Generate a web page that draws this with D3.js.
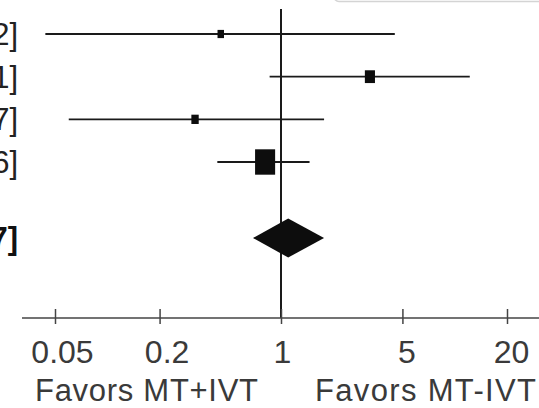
<!DOCTYPE html>
<html>
<head>
<meta charset="utf-8">
<script src="https://cdn.jsdelivr.net/npm/d3@7"></script>
<style>
  html, body { margin: 0; padding: 0; background: #fff; }
  svg { display: block; }
  text { font-family: "Liberation Sans", Arial, sans-serif; }
</style>
</head>
<body>
<script>
// ---- data ----
const studies   = ["Study A", "Study B", "Study C", "Study D"];
const oddsRatio = [0.45, 3.25, 0.32, 0.81];
const ciLower   = [0.044, 0.86, 0.06, 0.43];
const ciUpper   = [4.52, 12.21, 1.77, 1.46];
const weights   = [7, 17, 9, 67];
const pooledOR    = 1.10;
const pooledLower = 0.69;
const pooledUpper = 1.77;
const tickValues = [0.05, 0.2, 1, 5, 20];
const tickLabels = ["0.05", "0.2", "1", "5", "20"];
const favorLabels = ["Favors MT+IVT", "Favors MT-IVT"];

// ---- layout ----
const W = 539, H = 408;
const svg = d3.select("body").append("svg").attr("width", W).attr("height", H);

const x = d3.scaleLog().domain([0.05, 20]).range([55, 507]);
const rowY = d3.scalePoint().domain(studies).range([34, 162]);
const pooledY = 238;
const axisY = 318;

const fmt = d3.format(".2f");

// faint box edge at top right
svg.append("rect")
  .attr("x", 334).attr("y", -30).attr("width", 230).attr("height", 31.5)
  .attr("rx", 5).attr("fill", "#fff").attr("stroke", "#d4d4d4").attr("stroke-width", 1.5);

// reference line at 1
svg.append("line")
  .attr("x1", x(1)).attr("x2", x(1))
  .attr("y1", 9).attr("y2", axisY)
  .attr("stroke", "#1a1a1a").attr("stroke-width", 2);

// axis
const axis = d3.axisBottom(x)
  .tickValues(tickValues)
  .tickFormat((d, i) => tickLabels[i])
  .tickSize(0);
const gAxis = svg.append("g").attr("transform", `translate(0,${axisY})`).call(axis);
gAxis.select(".domain").remove();
gAxis.append("line")
  .attr("x1", 22).attr("x2", W).attr("y1", 0).attr("y2", 0)
  .attr("stroke", "#444").attr("stroke-width", 1.5);
gAxis.selectAll(".tick").append("line")
  .attr("y1", -9).attr("y2", 6)
  .attr("stroke", "#444").attr("stroke-width", 1.5);
gAxis.selectAll(".tick text")
  .attr("y", 0).attr("dy", 0)
  .attr("transform", "translate(0,45)")
  .attr("dx", d => d >= 1 ? (d === 1 ? 1 : 4) : 7)
  .attr("fill", "#3a3a3a")
  .style("font-size", "32px")
  .style("font-family", "'Liberation Sans', Arial, sans-serif");

// favors labels
svg.append("text")
  .attr("x", x(1) - 23).attr("y", 401)
  .attr("text-anchor", "end")
  .attr("fill", "#3a3a3a")
  .attr("textLength", 223).attr("lengthAdjust", "spacing")
  .style("font-size", "31px")
  .text(favorLabels[0]);
svg.append("text")
  .attr("x", x(1) + 34).attr("y", 401)
  .attr("text-anchor", "start")
  .attr("fill", "#3a3a3a")
  .attr("textLength", 221).attr("lengthAdjust", "spacing")
  .style("font-size", "31px")
  .text(favorLabels[1]);

// study rows
const rows = studies.map((s, i) => ({
  s, or: oddsRatio[i], lo: ciLower[i], hi: ciUpper[i], w: weights[i]
}));

const g = svg.append("g");
g.selectAll("line.ci").data(rows).join("line")
  .attr("class", "ci")
  .attr("x1", d => x(d.lo)).attr("x2", d => x(d.hi))
  .attr("y1", d => rowY(d.s)).attr("y2", d => rowY(d.s))
  .attr("stroke", "#1a1a1a").attr("stroke-width", 1.8);

const boxW = d => 2.45 * Math.sqrt(d.w);
const boxH = d => 3.1 * Math.sqrt(d.w);
g.selectAll("rect.pt").data(rows).join("rect")
  .attr("class", "pt")
  .attr("x", d => x(d.or) - boxW(d) / 2)
  .attr("y", d => rowY(d.s) - boxH(d) / 2)
  .attr("width", boxW).attr("height", boxH)
  .attr("fill", "#0d0d0d");

g.selectAll("text.ci").data(rows).join("text")
  .attr("class", "ci")
  .attr("x", 18).attr("y", d => rowY(d.s) + 11)
  .attr("text-anchor", "end")
  .attr("fill", "#222")
  .style("font-size", "31px")
  .text(d => `${fmt(d.or)} [${fmt(d.lo)}, ${fmt(d.hi)}]`);

// pooled diamond
const dh = 19.5;
svg.append("path")
  .attr("d", `M${x(pooledLower)},${pooledY} L${x(pooledOR)},${pooledY - dh} L${x(pooledUpper)},${pooledY} L${x(pooledOR)},${pooledY + dh} Z`)
  .attr("fill", "#0d0d0d");

svg.append("text")
  .attr("x", 18).attr("y", pooledY + 11)
  .attr("text-anchor", "end")
  .attr("fill", "#111")
  .style("font-size", "31px")
  .style("font-weight", "bold")
  .text(`${fmt(pooledOR)} [${fmt(pooledLower)}, ${fmt(pooledUpper)}]`);
</script>
</body>
</html>
